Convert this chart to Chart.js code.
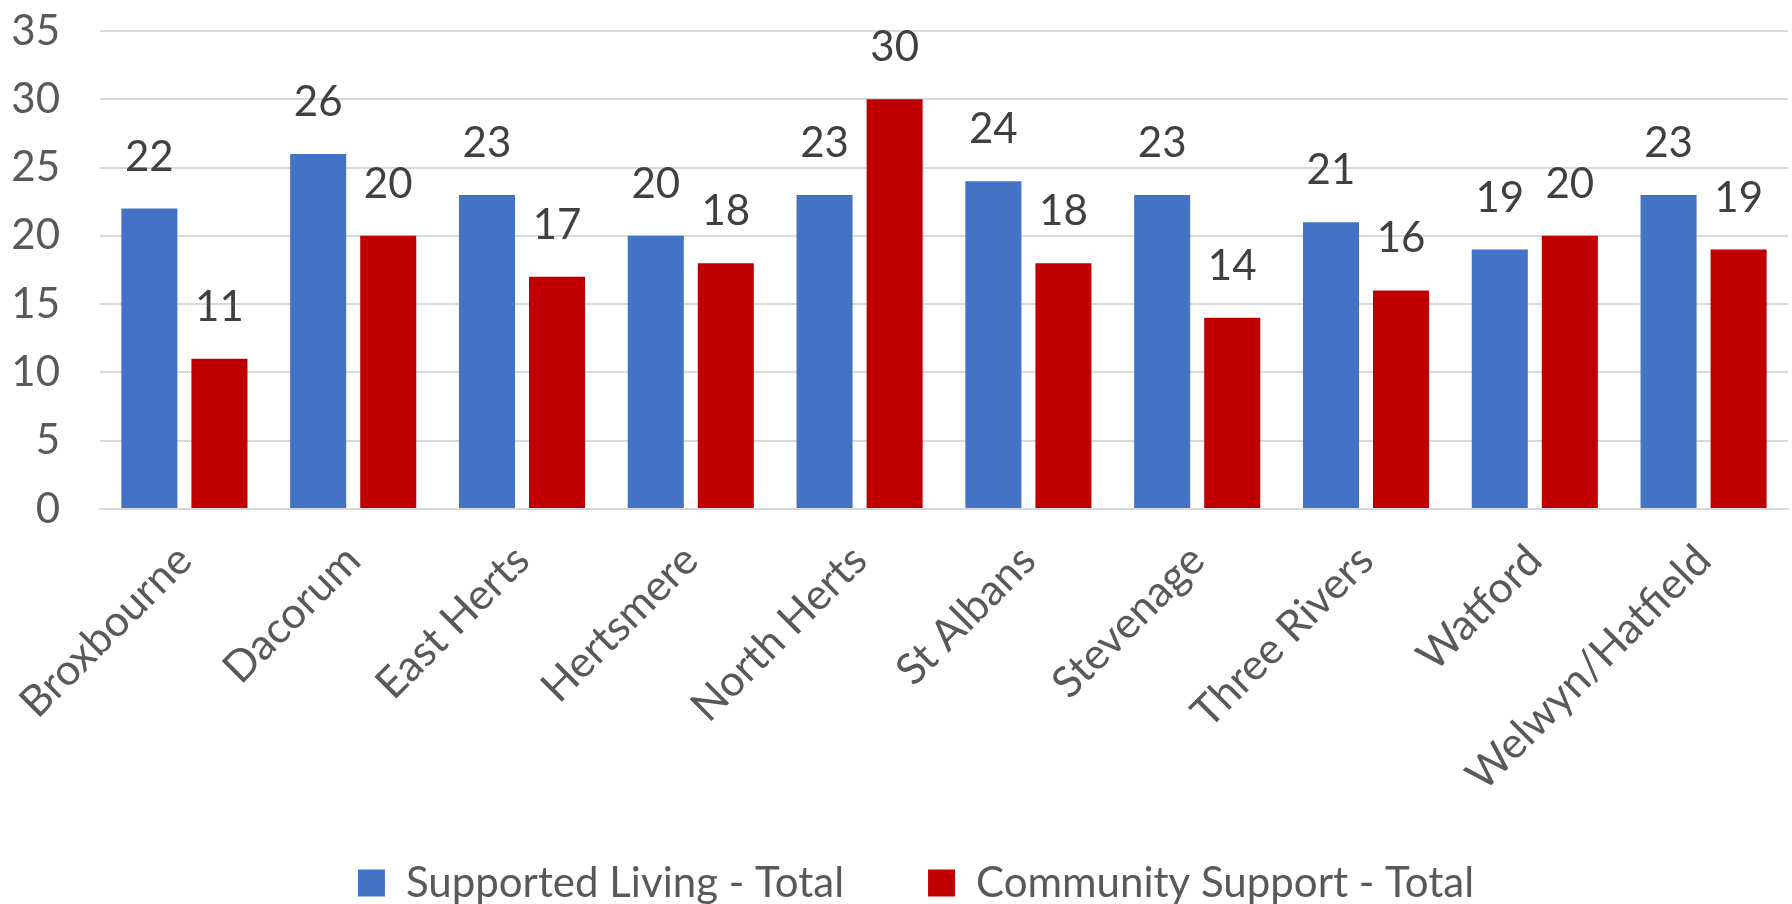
<!DOCTYPE html>
<html>
<head>
<meta charset="utf-8">
<script src="https://cdn.jsdelivr.net/npm/chart.js@4.4.1/dist/chart.umd.min.js"></script>
<style>
  html, body { margin: 0; padding: 0; background: #fff; overflow: hidden; }
  #wrap { width: 1792px; height: 904px; }
</style>
</head>
<body>
<div id="wrap"><canvas id="chart" width="1792" height="904"></canvas></div>
<script>
const districts = ["Broxbourne", "Dacorum", "East Herts", "Hertsmere", "North Herts",
  "St Albans", "Stevenage", "Three Rivers", "Watford", "Welwyn/Hatfield"];
const supportedLiving = [22, 26, 23, 20, 23, 24, 23, 21, 19, 23];
const communitySupport = [11, 20, 17, 18, 30, 18, 14, 16, 20, 19];
const yTicks = [0, 5, 10, 15, 20, 25, 30, 35];

const FONT = "Lato, 'Open Sans', sans-serif";

// value labels above each bar
const barLabels = {
  id: "barLabels",
  afterDatasetsDraw(chart) {
    const ctx = chart.ctx;
    ctx.save();
    ctx.font = `42px ${FONT}`;
    ctx.fillStyle = "#404040";
    ctx.textAlign = "center";
    ctx.textBaseline = "alphabetic";
    chart.data.datasets.forEach((ds, i) => {
      chart.getDatasetMeta(i).data.forEach((bar, j) => {
        ctx.fillText(String(ds.data[j]), bar.x, bar.y - 38);
      });
    });
    ctx.restore();
  },
};

// small layout nudges: legend lower / right, and let the long
// rotated x labels run past the axis box instead of being clipped
const layoutTweaks = {
  id: "layoutTweaks",
  afterLayout(chart) {
    const lg = chart.legend;
    if (lg) {
      lg.top += 10;
      lg.bottom += 10;
      lg.left += 22;
      lg.right += 22;
    }
    if (chart.scales.x) chart.scales.x.bottom += 40;
  },
};

new Chart(document.getElementById("chart"), {
  type: "bar",
  data: {
    labels: districts,
    datasets: [
      { label: "Supported Living - Total", data: supportedLiving, backgroundColor: "#4472C4" },
      { label: "Community Support - Total", data: communitySupport, backgroundColor: "#C00000" },
    ],
  },
  options: {
    responsive: false,
    animation: false,
    devicePixelRatio: 1,
    categoryPercentage: 0.83,
    barPercentage: 0.8,
    layout: { padding: { top: 31, right: 4, left: 0, bottom: 0 } },
    plugins: {
      legend: {
        position: "bottom",
        labels: {
          boxWidth: 27,
          boxHeight: 27,
          padding: 84,
          color: "#595959",
          font: { family: FONT, size: 42 },
        },
      },
      tooltip: { enabled: false },
    },
    scales: {
      x: {
        grid: { display: false },
        border: { color: "#d9d9d9", width: 2 },
        ticks: {
          color: "#595959",
          font: { family: FONT, size: 43 },
          minRotation: 45,
          maxRotation: 45,
          autoSkip: false,
          padding: 18,
        },
        afterFit(scale) { scale.height = 259; },
      },
      y: {
        min: 0,
        max: 35,
        afterBuildTicks(scale) { scale.ticks = yTicks.map((v) => ({ value: v })); },
        grid: { color: "#d9d9d9", lineWidth: 2, drawTicks: true, tickLength: 40, tickColor: "rgba(0,0,0,0)" },
        border: { display: false },
        ticks: {
          color: "#595959",
          font: { family: FONT, size: 42 },
          padding: 0,
        },
        afterFit(scale) { scale.width = 100; },
      },
    },
  },
  plugins: [barLabels, layoutTweaks],
});
</script>
</body>
</html>
